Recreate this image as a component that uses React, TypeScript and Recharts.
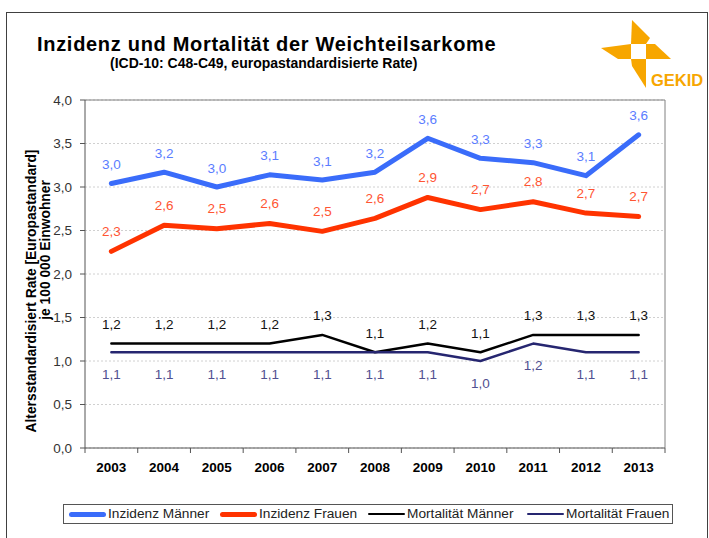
import React from 'react';
import { LineChart, Line, XAxis, YAxis, CartesianGrid, ReferenceLine, LabelList } from 'recharts';

const years = ['2003', '2004', '2005', '2006', '2007', '2008', '2009', '2010', '2011', '2012', '2013'];
const inzidenzMaenner = [3.04, 3.17, 3.0, 3.14, 3.08, 3.17, 3.56, 3.33, 3.28, 3.13, 3.6];
const inzidenzFrauen = [2.26, 2.56, 2.52, 2.58, 2.49, 2.64, 2.88, 2.74, 2.83, 2.7, 2.66];
const mortalitaetMaenner = [1.2, 1.2, 1.2, 1.2, 1.3, 1.1, 1.2, 1.1, 1.3, 1.3, 1.3];
const mortalitaetFrauen = [1.1, 1.1, 1.1, 1.1, 1.1, 1.1, 1.1, 1.0, 1.2, 1.1, 1.1];
const yTicks = [0, 0.5, 1, 1.5, 2, 2.5, 3, 3.5, 4];
const seriesNames = ['Inzidenz Männer', 'Inzidenz Frauen', 'Mortalität Männer', 'Mortalität Frauen'];

const data = years.map((y, i) => ({
  idx: i,
  year: y,
  incM: inzidenzMaenner[i],
  incF: inzidenzFrauen[i],
  mortM: mortalitaetMaenner[i],
  mortF: mortalitaetFrauen[i],
}));

const xTicks: number[] = [];
for (let i = -0.5; i <= years.length - 0.5; i += 0.5) xTicks.push(i);

const FONT = "'Liberation Sans', Arial, sans-serif";
const fmt = (v: number) => v.toFixed(1).replace('.', ',');

const series = [
  { key: 'incM', name: seriesNames[0], color: '#3a6cfa', label: '#5b7dff', width: 5, dy: -19 },
  { key: 'incF', name: seriesNames[1], color: '#ff3300', label: '#ff5533', width: 5, dy: -20 },
  { key: 'mortM', name: seriesNames[2], color: '#000000', label: '#111111', width: 2.5, dy: -19 },
  { key: 'mortF', name: seriesNames[3], color: '#262670', label: '#505090', width: 2.5, dy: 22 },
];

const makeLabel = (color: string, dy: number) => (props: any) => {
  const { x, y, value } = props;
  return (
    <text x={x} y={y + dy} fill={color} fontSize={13.5} fontFamily={FONT} textAnchor="middle" dominantBaseline="central">
      {fmt(Number(value))}
    </text>
  );
};

const XTick = (props: any) => {
  const { x, y, payload } = props;
  const v = payload.value;
  if (Number.isInteger(v)) {
    return (
      <text x={x} y={y + 19} fill="#000" fontSize={13.5} fontWeight="bold" fontFamily={FONT} textAnchor="middle" dominantBaseline="central">
        {years[v]}
      </text>
    );
  }
  return <line x1={x} x2={x} y1={y} y2={y + 5} stroke="#555" strokeWidth={1} />;
};

const legendLefts = [5, 156, 304, 463];

export default function App() {
  return (
    <div style={{ position: 'absolute', left: 0, top: 0, width: 709, height: 538, overflow: 'hidden', background: '#fff', fontFamily: FONT }}>
      <div style={{ position: 'absolute', left: 6, top: 12, width: 700, height: 600, border: '1px solid #404040' }} />
      <LineChart width={709} height={538} data={data} margin={{ top: 100, right: 44, bottom: 60, left: 35 }}>
        <CartesianGrid vertical={false} stroke="#d0d0d0" strokeDasharray="2 2" />
        <XAxis
          dataKey="idx"
          type="number"
          domain={[-0.5, years.length - 0.5]}
          ticks={xTicks}
          interval={0}
          tickLine={false}
          tickSize={0}
          tickMargin={0}
          height={30}
          tick={<XTick />}
          axisLine={{ stroke: '#555' }}
        />
        <YAxis
          type="number"
          domain={[0, 4]}
          ticks={yTicks}
          interval={0}
          width={50}
          tickSize={5}
          tickMargin={8}
          tickFormatter={fmt}
          tick={{ fill: '#333', fontSize: 13.5, fontFamily: FONT }}
          tickLine={{ stroke: '#555' }}
          axisLine={{ stroke: '#555' }}
        />
        <ReferenceLine y={4} stroke="#808080" />
        <ReferenceLine x={years.length - 0.5} stroke="#808080" />
        {series.map((s) => (
          <Line
            key={s.key}
            dataKey={s.key}
            name={s.name}
            type="linear"
            stroke={s.color}
            strokeWidth={s.width}
            strokeLinejoin="round"
            strokeLinecap="round"
            dot={false}
            activeDot={false}
            isAnimationActive={false}
          >
            <LabelList dataKey={s.key} content={makeLabel(s.label, s.dy)} />
          </Line>
        ))}
      </LineChart>

      <div style={{ position: 'absolute', left: 37, top: 32, fontSize: 20, letterSpacing: '0.7px', fontWeight: 'bold', color: '#000', whiteSpace: 'nowrap', lineHeight: '24px' }}>
        Inzidenz und Mortalität der Weichteilsarkome
      </div>
      <div style={{ position: 'absolute', left: 110, top: 55, fontSize: 14, fontWeight: 'bold', color: '#000', whiteSpace: 'nowrap', lineHeight: '16px' }}>
        (ICD-10: C48-C49, europastandardisierte Rate)
      </div>

      <div style={{ position: 'absolute', left: 31, top: 291, width: 0, height: 0 }}>
        <div style={{ position: 'absolute', left: 0, top: 0, transform: 'translate(-50%,-50%) rotate(-90deg)', fontSize: 13.8, fontWeight: 'bold', whiteSpace: 'nowrap', lineHeight: '15px' }}>
          Altersstandardisiert Rate [Europastandard]
        </div>
      </div>
      <div style={{ position: 'absolute', left: 45, top: 250, width: 0, height: 0 }}>
        <div style={{ position: 'absolute', left: 0, top: 0, transform: 'translate(-50%,-50%) rotate(-90deg)', fontSize: 13.8, fontWeight: 'bold', whiteSpace: 'nowrap', lineHeight: '15px' }}>
          je 100 000 Einwohner
        </div>
      </div>

      <svg style={{ position: 'absolute', left: 0, top: 0 }} width={709} height={100}>
        <g fill="#f7a600">
          <polygon points="631,44 632,20 650,38 646,44" />
          <polygon points="646,44 655,44 671,59 646,59" />
          <polygon points="631,59 646,59 646,88 632,66" />
          <polygon points="601,48 631,44 631,59 618,59" />
        </g>
        <rect x={631} y={44} width={15} height={15} fill="#fff" />
        <text x={651} y={86} fill="#f7a600" fontSize={16.5} fontWeight="bold" fontFamily={FONT}>
          GEKID
        </text>
      </svg>

      <div style={{ position: 'absolute', left: 63, top: 504, width: 608, height: 18, border: '1px solid #555', background: '#fff' }}>
        {series.map((s, i) => (
          <div key={s.key} style={{ position: 'absolute', left: legendLefts[i], top: 0, height: 18, display: 'flex', alignItems: 'center', whiteSpace: 'nowrap' }}>
            <div style={{ width: 37, height: s.width, background: s.color, borderRadius: s.width / 2, marginRight: 2 }} />
            <span style={{ fontSize: 13.7, color: '#222', lineHeight: '18px' }}>{s.name}</span>
          </div>
        ))}
      </div>
    </div>
  );
}
